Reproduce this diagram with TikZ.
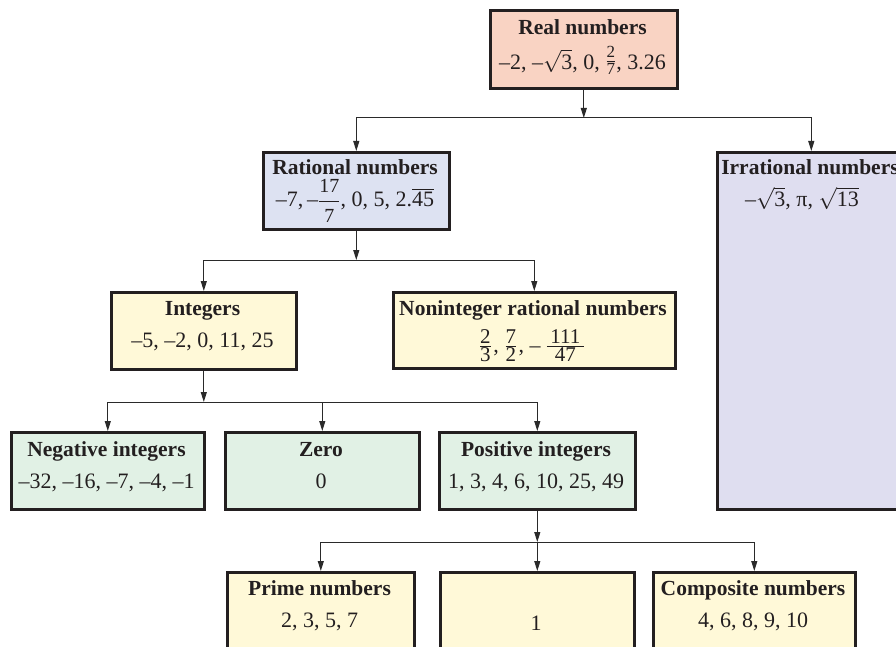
\documentclass[tikz,border=0pt]{standalone}
\usepackage{fix-cm}
\usepackage{amsmath}
\usepackage{fontspec}
\setmainfont{Liberation Serif}
\usetikzlibrary{arrows.meta}
\definecolor{realc}{HTML}{F9D3C3}
\definecolor{ratc}{HTML}{DDE2F2}
\definecolor{irrc}{HTML}{DFDEF0}
\definecolor{yelc}{HTML}{FFF9D8}
\definecolor{grnc}{HTML}{E1F1E5}
\definecolor{bordc}{HTML}{231F20}
\definecolor{linec}{HTML}{2A2A2A}
\newcommand\dfr[3]{$\dfrac{\mbox{\fontsize{#1}{#1}\selectfont #2}}{\mbox{\fontsize{#1}{#1}\selectfont #3}}$}
\newcommand\tfr[4]{\raisebox{#4}{$\tfrac{\mbox{\fontsize{#1}{#1}\selectfont #2}}{\mbox{\fontsize{#1}{#1}\selectfont #3}}$}}
\newcommand\rt[1]{$\sqrt{\mbox{#1}}$}
\begin{document}
\begin{tikzpicture}[x=1pt,y=-1pt,
  box/.style={draw=bordc, line width=2.6pt, inner sep=0pt, anchor=north west},
  ttl/.style={inner sep=0pt, anchor=base, font=\fontsize{21.5}{25}\selectfont\bfseries, text=bordc},
  val/.style={inner sep=0pt, anchor=base, font=\fontsize{22}{26}\selectfont, text=bordc},
  arr/.style={draw=linec, line width=1pt, -{Triangle[length=10pt,width=6pt]}}]
\clip (0,0) rectangle (896,647);
\fill[white] (0,0) rectangle (896,647);
% boxes
\node[box, fill=realc, minimum width=187pt, minimum height=78pt] (real) at (489,9) {};
\node[box, fill=ratc, minimum width=186pt, minimum height=77pt] (rat) at (262,151) {};
\node[box, fill=irrc, minimum width=188pt, minimum height=357pt] (irr) at (716,151) {};
\node[box, fill=yelc, minimum width=185pt, minimum height=77pt] (int) at (110,291) {};
\node[box, fill=yelc, minimum width=282pt, minimum height=76pt] (non) at (392,291) {};
\node[box, fill=grnc, minimum width=193pt, minimum height=77pt] (neg) at (10,431) {};
\node[box, fill=grnc, minimum width=194pt, minimum height=77pt] (zero) at (224,431) {};
\node[box, fill=grnc, minimum width=196pt, minimum height=77pt] (pos) at (438,431) {};
\node[box, fill=yelc, minimum width=187pt, minimum height=90pt] (prime) at (226,571) {};
\node[box, fill=yelc, minimum width=194pt, minimum height=90pt] (one) at (439,571) {};
\node[box, fill=yelc, minimum width=202pt, minimum height=90pt] (comp) at (652,571) {};
% texts
\node[ttl] (realt) at (582.5,34.5) {Real numbers};
\node[val] (realv) at (582.5,69.5) {–2, –\rt{3}, 0, \tfr{17}{2}{7}{3pt}, 3.26};
\node[ttl] (ratt) at (355,175) {Rational numbers};
\node[val] (ratv) at (355,207) {–7,\,–\dfr{20}{17}{7}, 0, 5, 2.$\overline{\mbox{45}}$};
\node[ttl] (irrt) at (810,175) {Irrational numbers};
\node[val] (irrv) at (802,207) {–\rt{3}, π, \rt{13}};
\node[ttl] (intt) at (202.5,315) {Integers};
\node[val] (intv) at (202.5,347) {–5, –2, 0, 11, 25};
\node[ttl] (nont) at (533,315) {Noninteger rational numbers};
\node[val] (nonv) at (532,352) {\tfr{21}{2}{3}{0pt}\hspace{1.5pt}, \tfr{21}{7}{2}{0pt}\hspace{1.5pt}, –\hspace{5pt}\tfr{21}{\,111\,}{47}{0pt}};
\node[ttl] (negt) at (106.5,456) {Negative integers};
\node[val] (negv) at (106.5,488) {–32, –16, –7, –4, –1};
\node[ttl] (zerot) at (321,456) {Zero};
\node[val] (zerov) at (321,488) {0};
\node[ttl] (post) at (536,456) {Positive integers};
\node[val] (posv) at (536,488) {1, 3, 4, 6, 10, 25, 49};
\node[ttl] (primet) at (319.5,595) {Prime numbers};
\node[val] (primev) at (319.5,627) {2, 3, 5, 7};
\node[val] (onev) at (536,630) {1};
\node[ttl] (compt) at (753,595) {Composite numbers};
\node[val] (compv) at (753,627) {4, 6, 8, 9, 10};
% junctions
\coordinate (y1) at (0,118);
\coordinate (y2) at (0,260);
\coordinate (y3) at (0,402);
\coordinate (y4) at (0,542);
\coordinate (j1) at (real.south |- y1);
\coordinate (j2) at (rat.south |- y2);
\coordinate (j3) at (int.south |- y3);
\coordinate (j4) at (pos.south |- y4);
% connectors
\draw[arr] (real.south) -- (j1);
\draw[arr] (j1) -| (rat.north);
\draw[arr] (j1) -| (irr.north);
\draw[arr] (rat.south) -- (j2);
\draw[arr] (j2) -| (int.north);
\draw[arr] (j2) -| (non.north);
\draw[arr] (int.south) -- (j3);
\draw[arr] (j3) -| (neg.north);
\draw[arr] (j3) -| (zero.north);
\draw[arr] (j3) -| (pos.north);
\draw[arr] (pos.south) -- (j4);
\draw[arr] (j4) -| (prime.north);
\draw[arr] (j4) -- (one.north);
\draw[arr] (j4) -| (comp.north);
\end{tikzpicture}
\end{document}
